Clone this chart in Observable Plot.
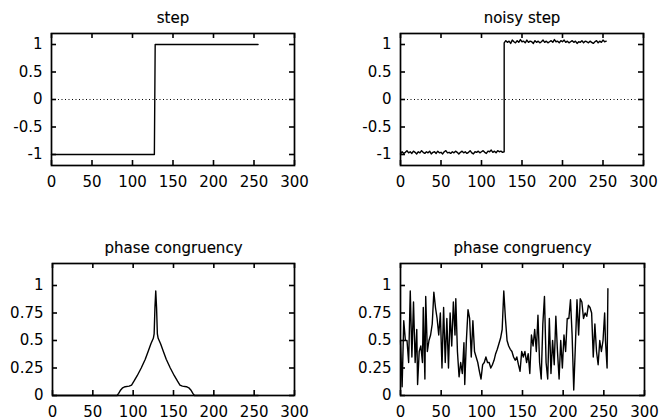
<!DOCTYPE html>
<html><head><meta charset="utf-8">
<script src="https://cdn.jsdelivr.net/npm/d3@7"></script>
<script src="https://cdn.jsdelivr.net/npm/@observablehq/plot@0.6"></script>
<style>
body{margin:0;background:#fff;}
#wrap{position:relative;width:659px;height:420px;overflow:hidden;background:#fff;}
#wrap svg{position:absolute;}
</style></head><body><div id="wrap"></div>
<script>
// ---- data ----
const titles = ["step", "noisy step", "phase congruency", "phase congruency"];
const xTicks = [0, 50, 100, 150, 200, 250, 300];
const stepYTicks = [-1, -0.5, 0, 0.5, 1];
const pcYTicks = [0, 0.25, 0.5, 0.75, 1];

// clean step
const stepX = [0, 127, 128, 255];
const stepY = [-1, -1, 1, 1];

// noisy step (sampled every 2 samples)
const noisyLow = [-0.99,-0.95,-0.98,-0.96,-0.93,-0.97,-0.95,-0.98,-0.94,-0.96,-0.99,-0.95,-0.97,-0.93,-0.96,-0.98,-0.95,-0.97,-0.94,-0.99,-0.96,-0.95,-0.98,-0.94,-0.97,-0.96,-0.99,-0.95,-0.93,-0.97,-0.96,-0.98,-0.95,-0.97,-0.94,-0.96,-0.99,-0.96,-0.94,-0.97,-0.95,-0.98,-0.96,-0.93,-0.97,-0.99,-0.95,-0.96,-0.94,-0.97,-0.95,-0.93,-0.96,-0.98,-0.94,-0.95,-0.92,-0.96,-0.94,-0.97,-0.93,-0.95,-0.94,-0.96,-0.95];
const noisyHigh = [1.03,1.07,1.04,1.06,1.02,1.08,1.05,1.03,1.07,1.04,1.09,1.05,1.06,1.03,1.08,1.04,1.06,1.05,1.02,1.07,1.04,1.06,1.03,1.05,1.08,1.04,1.06,1.03,1.05,1.07,1.04,1.09,1.05,1.06,1.03,1.07,1.05,1.08,1.04,1.06,1.03,1.05,1.07,1.04,1.06,1.02,1.05,1.04,1.07,1.03,1.06,1.05,1.03,1.06,1.04,1.02,1.05,1.07,1.03,1.06,1.04,1.08,1.05,1.06];

// phase congruency of clean step
const pcX = [0,80,82,84,87,90,95,98,101,105,110,115,119,122,125,126,127,128,129,130,131,134,137,141,146,151,155,158,161,166,169,172,174,176,255];
const pcY = [0,0,0.02,0.045,0.07,0.08,0.085,0.095,0.13,0.18,0.25,0.33,0.41,0.47,0.52,0.56,0.8,0.95,0.8,0.56,0.52,0.47,0.41,0.33,0.25,0.18,0.13,0.095,0.085,0.08,0.07,0.045,0.02,0,0];

// phase congruency of noisy step
const npcX = [0,2,4,6,8,10,12,14,16,18,20,21,23,25,27,28,30,31,33,35,37,39,41,43,45,47,49,51,53,55,57,59,61,63,65,67,68,70,72,74,76,78,79,81,83,85,87,89,91,93,95,97,99,101,103,105,107,109,111,113,115,117,119,121,123,125,127,129,131,133,135,137,139,141,143,145,147,149,151,153,155,157,159,161,163,165,167,169,171,173,175,177,179,181,183,185,187,189,191,193,195,197,199,201,203,205,207,209,211,213,215,217,219,221,223,225,227,229,231,233,235,237,239,241,243,245,247,249,251,252,254,255];
const npcY = [0.5,0.08,0.68,0.5,0.5,0.3,0.95,0.35,0.85,0.3,0.6,0.1,0.4,0.45,0.3,0.8,0.15,0.9,0.4,0.5,0.55,0.65,0.94,0.8,0.7,0.55,0.75,0.25,0.8,0.3,0.7,0.25,0.75,0.45,0.85,0.55,0.88,0.4,0.17,0.3,0.2,0.48,0.1,0.5,0.78,0.7,0.35,0.68,0.4,0.35,0.3,0.22,0.15,0.28,0.3,0.35,0.3,0.3,0.25,0.28,0.32,0.38,0.42,0.47,0.52,0.6,0.95,0.7,0.5,0.45,0.42,0.4,0.35,0.32,0.35,0.28,0.22,0.4,0.35,0.4,0.3,0.38,0.2,0.55,0.45,0.6,0.4,0.73,0.3,0.15,0.65,0.9,0.3,0.15,0.7,0.2,0.5,0.28,0.72,0.4,0.15,0.5,0.25,0.55,0.4,0.7,0.7,0.87,0.55,0.05,0.45,0.87,0.55,0.88,0.85,0.7,0.75,0.72,0.82,0.8,0.75,0.35,0.65,0.4,0.28,0.5,0.4,0.5,0.75,0.5,0.25,0.97];

// ---- build tables ----
const stepData = stepX.map((x, i) => ({x, y: stepY[i]}));
const noisyData = [
  ...noisyLow.map((y, i) => ({x: i * 2, y})),
  ...noisyHigh.map((y, i) => ({x: 128 + i * 2, y}))
];
const pcData = pcX.map((x, i) => ({x, y: pcY[i]}));
const npcData = npcX.map((x, i) => ({x, y: npcY[i]}));

const FONT = "'DejaVu Sans', 'Liberation Sans', Arial, sans-serif";
const wrap = document.getElementById("wrap");

function panel({left, top, width, height, mL, mR, mT, mB, yDomain, yTicks, title, data, zeroLine}) {
  const fw = width - mL - mR, fh = height - mT - mB;
  const txt = {fill: "#000", stroke: "#000", strokeWidth: 0.15};
  const marks = [
    Plot.frame({stroke: "#000", strokeWidth: 1.7}),
    zeroLine ? Plot.ruleY([0], {stroke: "#000", strokeWidth: 1, strokeDasharray: "1,2.5"}) : null,
    Plot.tickX(xTicks, {x: d => d, insetTop: fh - 5, stroke: "#000", strokeWidth: 1.6}),
    Plot.tickX(xTicks, {x: d => d, insetBottom: fh - 5, stroke: "#000", strokeWidth: 1.6}),
    Plot.tickY(yTicks, {y: d => d, insetRight: fw - 5, stroke: "#000", strokeWidth: 1.6}),
    Plot.tickY(yTicks, {y: d => d, insetLeft: fw - 5, stroke: "#000", strokeWidth: 1.6}),
    Plot.line(data, {x: "x", y: "y", stroke: "#000", strokeWidth: 1.4}),
    Plot.axisX(xTicks, {label: null, tickSize: 0, tickPadding: 11, fontSize: 15, ...txt, tickFormat: d => String(d)}),
    Plot.axisY(yTicks, {label: null, tickSize: 0, tickPadding: 9, fontSize: 15, ...txt, tickFormat: d => String(d)}),
    Plot.text([title], {frameAnchor: "top", dy: -11, lineAnchor: "bottom", fontSize: 15, ...txt})
  ];
  const svg = Plot.plot({
    width, height,
    marginLeft: mL, marginRight: mR, marginTop: mT, marginBottom: mB,
    style: {fontFamily: FONT, color: "#000", background: "transparent", overflow: "visible"},
    x: {domain: [0, 300], axis: null},
    y: {domain: yDomain, axis: null},
    marks
  });
  svg.style.left = left + "px";
  svg.style.top = top + "px";
  wrap.appendChild(svg);
}

panel({left: 0, top: 0, width: 330, height: 210, mL: 51, mR: 36, mT: 33, mB: 45,
  yDomain: [-1.2, 1.2], yTicks: stepYTicks, title: titles[0], data: stepData, zeroLine: true});
panel({left: 329, top: 0, width: 330, height: 210, mL: 71, mR: 16, mT: 33, mB: 45,
  yDomain: [-1.2, 1.2], yTicks: stepYTicks, title: titles[1], data: noisyData, zeroLine: true});
panel({left: 0, top: 210, width: 330, height: 210, mL: 52, mR: 36, mT: 53, mB: 25,
  yDomain: [0, 1.2], yTicks: pcYTicks, title: titles[2], data: pcData, zeroLine: false});
panel({left: 329, top: 210, width: 330, height: 210, mL: 71, mR: 15, mT: 53, mB: 25,
  yDomain: [0, 1.2], yTicks: pcYTicks, title: titles[3], data: npcData, zeroLine: false});
</script></body></html>
